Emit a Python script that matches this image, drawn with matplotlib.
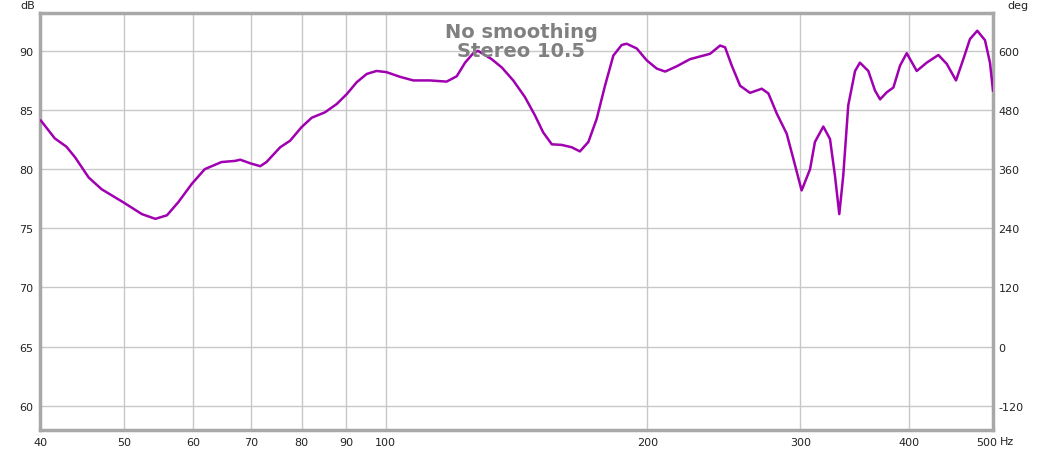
import numpy as np
import matplotlib
matplotlib.use("Agg")
import matplotlib.pyplot as plt
import matplotlib.transforms as transforms
from matplotlib.ticker import FixedLocator, NullLocator

plt.rcParams["axes.unicode_minus"] = False

# SPL (frequency in Hz, level in dB)
freq = [40.1, 41.6, 42.9, 43.9, 45.5, 47.1, 50.0, 52.4, 54.3, 56.0,
        57.7, 59.8, 61.9, 64.7, 67.1, 68.0, 69.8, 71.7, 72.9, 75.6,
        77.6, 80.0, 82.2, 85.1, 87.8, 90.2, 92.6, 95.1, 97.6, 100.2,
        103.9, 107.6, 112.4, 117.5, 120.7, 123.4, 126.1, 127.7, 132.4, 136.0,
        140.2, 144.6, 148.5, 151.8, 155.3, 159.4, 163.7, 167.3, 171.1, 174.9,
        178.8, 182.8, 186.9, 189.4, 194.5, 199.7, 205.1, 209.7, 216.3, 224.0,
        236.2, 242.6, 245.8, 250.2, 255.8, 262.6, 270.9, 275.7, 281.9, 289.4,
        294.5, 301.1, 307.9, 311.9, 318.9, 324.6, 328.9, 332.7, 336.2, 340.7,
        346.9, 351.4, 359.3, 365.7, 370.7, 377.3, 384.0, 390.8, 397.8, 408.5,
        419.4, 432.6, 442.3, 453.3, 462.2, 470.4, 479.6, 489.5, 496.0, 500.0]
spl = [84.1, 82.6, 81.9, 81.0, 79.3, 78.3, 77.15, 76.2, 75.8, 76.1,
       77.2, 78.75, 80.0, 80.6, 80.7, 80.8, 80.5, 80.25, 80.6, 81.85,
       82.4, 83.55, 84.35, 84.8, 85.5, 86.35, 87.35, 88.05, 88.3, 88.2,
       87.8, 87.5, 87.5, 87.4, 87.85, 89.0, 89.8, 90.0, 89.3, 88.6,
       87.5, 86.1, 84.55, 83.1, 82.1, 82.05, 81.85, 81.5, 82.3, 84.25,
       87.05, 89.6, 90.5, 90.6, 90.2, 89.2, 88.5, 88.25, 88.7, 89.3,
       89.75, 90.45, 90.3, 88.75, 87.05, 86.45, 86.8, 86.4, 84.7, 83.0,
       80.9, 78.2, 80.0, 82.3, 83.6, 82.55, 79.45, 76.2, 79.45, 85.4,
       88.3, 89.0, 88.3, 86.65, 85.9, 86.5, 86.9, 88.75, 89.8, 88.3,
       89.0, 89.65, 88.9, 87.5, 89.3, 91.0, 91.7, 90.9, 89.0, 86.65]

x_ticks = [40, 50, 60, 70, 80, 90, 100, 200, 300, 400, 500]
x_labels = ["40", "50", "60", "70", "80", "90", "100", "200", "300", "400", "500"]
db_ticks = [60, 65, 70, 75, 80, 85, 90]
deg_ticks = [-120, 0, 120, 240, 360, 480, 600]

db_lim = (57.95, 93.2)
grid_c = "#c8c8c8"
frame_c = "#a8a8a8"
txt_c = "#222222"

fig = plt.figure(figsize=(10.42, 4.52), dpi=100)
ax = fig.add_axes([40 / 1042, 1 - 431 / 452, 953 / 1042, 417 / 452])

ax.set_xscale("log")
ax.set_xlim(40, 500)
ax.set_ylim(*db_lim)
ax.xaxis.set_major_locator(FixedLocator(x_ticks))
ax.xaxis.set_minor_locator(NullLocator())
ax.set_xticklabels(x_labels)
ax.set_yticks(db_ticks)

ax.grid(True, color=grid_c, lw=1.0)
ax.set_axisbelow(True)
ax.tick_params(length=0, labelsize=8, colors=txt_c, pad=5)
for s in ax.spines.values():
    s.set_color(frame_c)
    s.set_linewidth(2.5)

# nudge the "500" label left so "Hz" fits after it
last = ax.get_xticklabels()[-1]
last.set_transform(last.get_transform() +
                   transforms.ScaledTranslation(-6 / 100, 0, fig.dpi_scale_trans))

ax.plot(freq, spl, color="#a000b0", lw=1.8, zorder=3)

# phase axis on the right
ax2 = ax.twinx()
ax2.set_ylim((db_lim[0] - 65) * 24, (db_lim[1] - 65) * 24)
ax2.set_yticks(deg_ticks)
ax2.tick_params(length=0, labelsize=8, colors=txt_c, pad=4)
for s in ax2.spines.values():
    s.set_visible(False)

fig.text(20 / 1042, 1 - 6 / 452, "dB", fontsize=8, color=txt_c, va="center", ha="left")
fig.text(1007 / 1042, 1 - 6 / 452, "deg", fontsize=8, color=txt_c, va="center", ha="left")
fig.text(1000 / 1042, 1 - 442 / 452, "Hz", fontsize=8, color=txt_c, va="center", ha="left")

ax.text(0.505, 0.978, "No smoothing\nStereo 10.5", transform=ax.transAxes,
        ha="center", va="top", fontsize=14, fontweight="bold", color="#808080",
        linespacing=1.0, zorder=4)

fig.savefig("out.png", dpi=100, facecolor="white")
